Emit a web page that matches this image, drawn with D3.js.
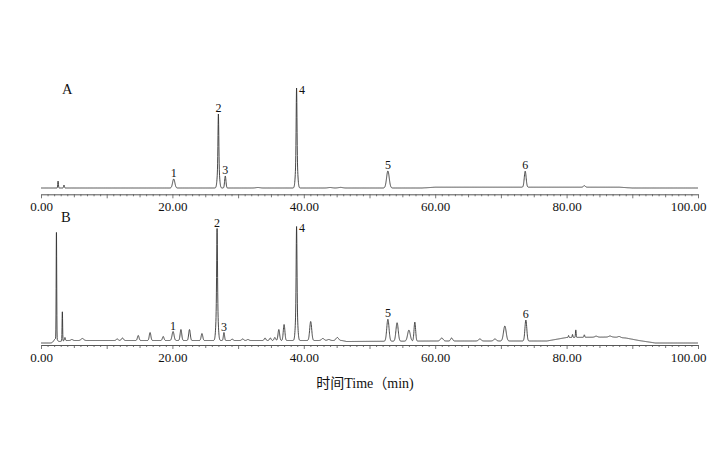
<!DOCTYPE html>
<html><head><meta charset="utf-8">
<script src="https://cdn.jsdelivr.net/npm/d3@7"></script>
<style>body{margin:0;background:#fff}svg{display:block}</style>
</head><body>
<svg id="c" width="723" height="459"></svg>
<script>
// ---- data ----
const timeDomain = [0, 100];
const tickValuesLabeled = [0, 20, 40, 60, 80, 100];
const tickLabels = ["0.00", "20.00", "40.00", "60.00", "80.00", "100.00"];
const panelNames = ["A", "B"];
const axisTitle = "时间Time（min)";

// peaks: [retention time (min), height (rel. units), sigma (min)]
const peaksA = [
  [2.6, 7, 0.05], [3.5, 3, 0.06],
  [20.2, 9, 0.17],
  [27.0, 50, 0.06], [27.0, 24, 0.15],
  [28.05, 12, 0.1],
  [33.0, 0.5, 0.3], [44.0, 0.5, 0.3], [45.6, 0.6, 0.3],
  [38.9, 68, 0.06], [38.9, 32, 0.15],
  [52.8, 17, 0.2],
  [73.7, 16, 0.14],
  [82.7, 1.5, 0.15]
];
const baselineA = [[0, 0], [58, 0], [60, 0.8], [88, 0.8], [90, 0], [100, 0]];
const labelsA = [["1", 20.2], ["2", 27.0], ["3", 28.05], ["4", 38.9], ["5", 52.8], ["6", 73.7]];

const peaksB = [
  [2.2, 4, 0.25], [2.35, 110, 0.04], [3.25, 30, 0.04], [3.65, 3, 0.06],
  [4.7, 1, 0.15], [6.3, 2, 0.2], [11.6, 1.5, 0.15], [12.4, 2.5, 0.15],
  [14.8, 5, 0.12], [16.6, 8, 0.12], [18.6, 4, 0.12], [20.1, 9, 0.15],
  [21.3, 11, 0.12], [22.6, 11, 0.12], [24.5, 7, 0.12],
  [26.8, 75, 0.06], [26.8, 37, 0.15],
  [27.85, 8, 0.09], [29.1, 1.5, 0.12], [30.7, 1.5, 0.15], [31.5, 1, 0.15],
  [34.1, 2.5, 0.12], [34.9, 2.5, 0.12], [35.6, 3, 0.12],
  [36.2, 11, 0.12], [37.0, 16, 0.12],
  [38.9, 78, 0.06], [38.9, 36, 0.15],
  [41.05, 19, 0.15], [42.9, 2, 0.2], [43.8, 1, 0.2], [45.1, 3, 0.2],
  [52.8, 22, 0.17], [54.2, 18.5, 0.17], [56.0, 11, 0.2], [56.9, 19, 0.12],
  [61.0, 3, 0.2], [62.5, 3, 0.15], [66.8, 2, 0.2], [69.1, 2, 0.2],
  [70.6, 15, 0.2], [73.8, 21, 0.14],
  [80.3, 2, 0.05], [80.9, 3, 0.05], [81.4, 7.5, 0.05], [82.7, 2.5, 0.06],
  [84.5, 1, 0.2], [86.6, 1, 0.2], [88.0, 1, 0.2]
];
const baselineB = [[0, 0], [2, 0], [3.5, 2.5], [45.8, 2.5], [46.5, 1.5], [60, 2], [77, 2],
  [80, 5.5], [87, 6], [89, 5], [91, 2.5], [93.5, 0], [100, 0]];
const labelsB = [["1", 20.1], ["2", 26.8], ["3", 27.85], ["4", 38.9], ["5", 52.8], ["6", 73.8]];

// ---- rendering ----
const svg = d3.select("#c");
const serif = "'Liberation Serif','Times New Roman',serif";
const x = d3.scaleLinear().domain(timeDomain).range([41, 698]);

function signal(peaks, base) {
  const bt = base.map(d => d[0]), bv = base.map(d => d[1]);
  const bi = d3.scaleLinear().domain(bt).range(bv);
  return t => bi(t) + d3.sum(peaks, p => p[1] * Math.exp(-0.5 * ((t - p[0]) / p[2]) ** 2));
}

const panels = [
  { name: panelNames[0], peaks: peaksA, base: baselineA, labels: labelsA,
    y: d3.scaleLinear().domain([0, 100]).range([188, 88]), axisY: 194.3, nameXY: [62, 93.5] },
  { name: panelNames[1], peaks: peaksB, base: baselineB, labels: labelsB,
    y: d3.scaleLinear().domain([0, 100]).range([343, 243]), axisY: 345, nameXY: [61, 221.5] }
];

const times = d3.range(0, 100.0001, 0.02);

panels.forEach(p => {
  const f = signal(p.peaks, p.base);
  const pts = times.map(t => [t, f(t)]);
  svg.append("path")
    .attr("d", d3.line().x(d => x(d[0])).y(d => p.y(d[1]))(pts))
    .attr("fill", "none").attr("stroke", "#333").attr("stroke-width", 0.9)
    .attr("stroke-linejoin", "round");

  // axis
  const ax = d3.axisBottom(x)
    .tickValues(d3.range(0, 101, 1))
    .tickSizeInner(2).tickSizeOuter(0)
    .tickFormat(d => {
      const i = tickValuesLabeled.indexOf(d);
      return i >= 0 ? tickLabels[i] : "";
    });
  const g = svg.append("g").attr("transform", `translate(0,${p.axisY})`).call(ax);
  g.select(".domain").attr("stroke", "#444").attr("stroke-width", 0.9);
  g.selectAll(".tick line").attr("stroke", "#555").attr("stroke-width", 0.8)
    .attr("y2", d => d % 10 === 0 ? 4 : d % 5 === 0 ? 3 : 2);
  g.selectAll(".tick text")
    .attr("font-family", serif).attr("font-size", 13).attr("fill", "#111")
    .attr("y", 17).attr("dy", 0);
  g.selectAll(".tick text").filter(d => d === 100)
    .attr("text-anchor", "end").attr("dx", 8);

  // panel name
  svg.append("text").attr("x", p.nameXY[0]).attr("y", p.nameXY[1])
    .attr("font-family", serif).attr("font-size", 14.5).attr("fill", "#111").text(p.name);

  // peak numbers
  p.labels.forEach(([lab, t]) => {
    const yy = p.y(f(t));
    const right = lab === "4";
    svg.append("text")
      .attr("x", right ? x(t) + 2.5 : x(t))
      .attr("y", right ? yy + 5.5 : yy - 2)
      .attr("text-anchor", right ? "start" : "middle")
      .attr("font-family", serif).attr("font-size", 12).attr("fill", "#111")
      .text(lab);
  });
});

svg.append("text").attr("x", 365).attr("y", 388)
  .attr("text-anchor", "middle")
  .attr("font-family", "'Liberation Serif','Noto Sans CJK SC',serif")
  .attr("font-size", 14).attr("fill", "#111").text(axisTitle);
</script>
</body></html>
